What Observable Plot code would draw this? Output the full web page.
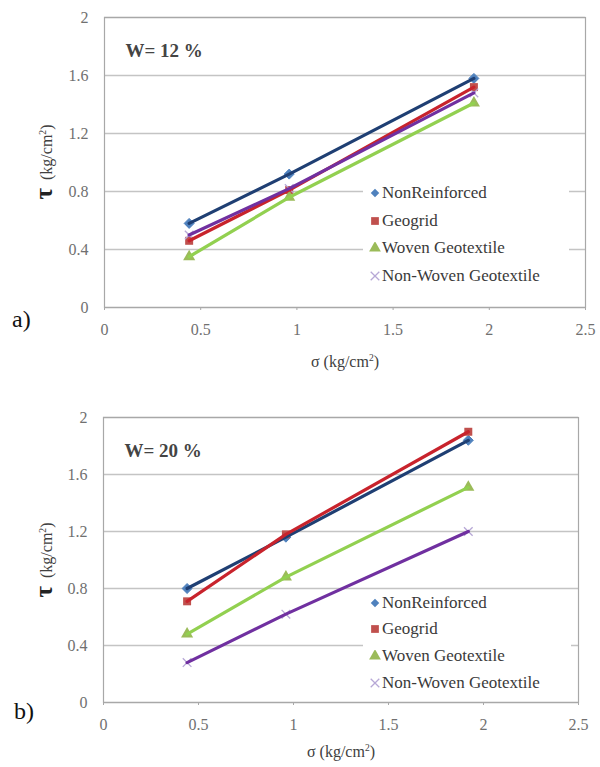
<!DOCTYPE html>
<html>
<head>
<meta charset="utf-8">
<script src="https://cdn.jsdelivr.net/npm/d3@7"></script>
<script src="https://cdn.jsdelivr.net/npm/@observablehq/plot@0.6"></script>
<style>
  html, body { margin: 0; padding: 0; background: #fff; }
  #page { position: relative; width: 600px; height: 767px; overflow: hidden; font-family: "Liberation Serif", "Times New Roman", "Noto Serif", "Nimbus Roman", "FreeSerif", "DejaVu Serif", serif; }
  .panel { position: absolute; left: 0; width: 600px; }
  .panel svg { display: block; }
  .ylab { position: absolute; white-space: nowrap; transform: translate(-50%, -50%) rotate(-90deg); color: #404040; font-size: 16px; }
  .ylab .tau { font-size: 25px; font-weight: bold; color: #222; }
  .xlab { position: absolute; white-space: nowrap; transform: translate(-50%, -50%); color: #404040; font-size: 16px; }
  .plabel { position: absolute; font-size: 24px; color: #111; }
  .legend { position: absolute; background: #fff; }
  .legend .row { position: absolute; left: 0; white-space: nowrap; font-size: 17px; color: #3a3a3a; transform: translateY(-50%); display: flex; align-items: center; }
  .legend svg { display: inline-block; margin-right: 1px; }
  sup { font-size: 60%; vertical-align: 0.6em; line-height: 0; }
</style>
</head>
<body>
<div id="page"></div>
<script>
// ---- data ----
const sigma = [0.44, 0.96, 1.92];
const seriesNames = ["NonReinforced", "Geogrid", "Woven Geotextile", "Non-Woven Geotextile"];
const xTicks = [0, 0.5, 1, 1.5, 2, 2.5];
const yTicks = [0, 0.4, 0.8, 1.2, 1.6, 2];

const w12NonReinforced = [0.58, 0.92, 1.58];
const w12Geogrid       = [0.46, 0.81, 1.52];
const w12Woven         = [0.35, 0.76, 1.41];
const w12NonWoven      = [0.50, 0.82, 1.48];

const w20NonReinforced = [0.80, 1.16, 1.84];
const w20Geogrid       = [0.71, 1.18, 1.90];
const w20Woven         = [0.48, 0.88, 1.51];
const w20NonWoven      = [0.28, 0.62, 1.20];

// ---- styles ----
const FONT = '"Liberation Serif", "Times New Roman", "Noto Serif", "Nimbus Roman", "FreeSerif", "DejaVu Serif", serif';
const lineColors   = ["#1F3F73", "#C8232C", "#92D050", "#7030A0"];
const markerColors = ["#4F81BD", "#C0504D", "#9BBB59", "#B7A8D6"];
const markerSymbols = ["diamond2", "square", "triangle", "times"];
const markerR = [4.5, 4.5, 4.5, 4];

function rowsFor(seriesValues) {
  const rows = [];
  seriesValues.forEach((vals, i) => {
    vals.forEach((v, j) => rows.push({series: seriesNames[i], si: i, sigma: sigma[j], tau: v}));
  });
  return rows;
}

function makePanel({top, height, mLeft, mRight, mTop, mBottom, values, wText, panelLabel, panelLabelPos, legendBox, legendRows, ylabPos, xlabPos}) {
  const page = document.getElementById("page");
  const panel = document.createElement("div");
  panel.className = "panel";
  panel.style.top = top + "px";
  panel.style.height = height + "px";
  page.appendChild(panel);

  const rows = rowsFor(values);
  const marks = [
    Plot.gridY(yTicks, {stroke: "#c4c4c4", strokeOpacity: 1, strokeWidth: 1.4}),
    Plot.frame({stroke: "#a8a8a8", strokeWidth: 1.2}),
    Plot.axisY(yTicks, {tickSize: 0, tickPadding: 16, label: null, tickFormat: d => String(d), fontSize: 16, fill: "#707070"}),
    Plot.axisX(xTicks, {tickSize: 3, tickPadding: 13, label: null, tickFormat: d => String(d), fontSize: 16, fill: "#707070", stroke: "#a8a8a8"}),
  ];
  seriesNames.forEach((name, i) => {
    const sub = rows.filter(r => r.si === i);
    const dotOpts = {x: "sigma", y: "tau", symbol: markerSymbols[i], r: markerR[i]};
    if (markerSymbols[i] === "times") { dotOpts.stroke = markerColors[i]; dotOpts.strokeWidth = 1.3; }
    else if (markerSymbols[i] === "diamond2") { dotOpts.fill = markerColors[i]; dotOpts.stroke = markerColors[i]; dotOpts.strokeWidth = 1; }
    else { dotOpts.fill = markerColors[i]; }
    marks.push(Plot.dot(sub, dotOpts));
  });
  seriesNames.forEach((name, i) => {
    const sub = rows.filter(r => r.si === i);
    marks.push(Plot.line(sub, {x: "sigma", y: "tau", stroke: lineColors[i], strokeWidth: 3.2}));
  });
  marks.push(Plot.text([wText], {frameAnchor: "top-left", dx: 21, dy: 26, text: d => d, textAnchor: "start", fontSize: 19, fontWeight: "bold", fill: "#444"}));

  const chart = Plot.plot({
    width: 600,
    height: height,
    marginLeft: mLeft, marginRight: mRight, marginTop: mTop, marginBottom: mBottom,
    x: {domain: [0, 2.5]},
    y: {domain: [0, 2]},
    style: {fontFamily: FONT, background: "transparent", color: "#555"},
    marks
  });
  panel.appendChild(chart);

  const yl = document.createElement("div");
  yl.className = "ylab";
  yl.style.left = ylabPos[0] + "px";
  yl.style.top = ylabPos[1] + "px";
  yl.innerHTML = '<span class="tau">τ</span>&nbsp; (kg/cm<sup>2</sup>)';
  panel.appendChild(yl);

  const xl = document.createElement("div");
  xl.className = "xlab";
  xl.style.left = xlabPos[0] + "px";
  xl.style.top = xlabPos[1] + "px";
  xl.innerHTML = 'σ (kg/cm<sup>2</sup>)';
  panel.appendChild(xl);

  const pl = document.createElement("div");
  pl.className = "plabel";
  pl.style.left = panelLabelPos[0] + "px";
  pl.style.top = panelLabelPos[1] + "px";
  pl.textContent = panelLabel;
  panel.appendChild(pl);

  const lg = document.createElement("div");
  lg.className = "legend";
  lg.style.left = legendBox[0] + "px";
  lg.style.top = legendBox[1] + "px";
  lg.style.width = legendBox[2] + "px";
  lg.style.height = legendBox[3] + "px";
  panel.appendChild(lg);
  seriesNames.forEach((name, i) => {
    const row = document.createElement("div");
    row.className = "row";
    row.style.top = (legendRows[i] - legendBox[1]) + "px";
    row.style.left = "6px";
    const s = d3.create("svg").attr("width", 12).attr("height", 12);
    const sym = {diamond2: d3.symbolSquare, square: d3.symbolSquare, triangle: d3.symbolTriangle, times: d3.symbolTimes}[markerSymbols[i]];
    const size = markerSymbols[i] === "times" ? 50 : (markerSymbols[i] === "diamond2" ? 36 : 60);
    const p = s.append("path").attr("transform", "translate(6,6)" + (markerSymbols[i] === "diamond2" ? " rotate(45)" : "")).attr("d", d3.symbol(sym, size)());
    if (markerSymbols[i] === "times") p.attr("fill", "none").attr("stroke", markerColors[i]).attr("stroke-width", 1.3);
    else p.attr("fill", markerColors[i]);
    row.appendChild(s.node());
    const t = document.createElement("span");
    t.textContent = name;
    row.appendChild(t);
    lg.appendChild(row);
  });
}

makePanel({
  top: 0, height: 385, mLeft: 104, mRight: 15, mTop: 17, mBottom: 78,
  values: [w12NonReinforced, w12Geogrid, w12Woven, w12NonWoven],
  wText: "W= 12 %",
  panelLabel: "a)", panelLabelPos: [12, 306],
  legendBox: [363, 180, 206, 110],
  legendRows: [193, 221, 248, 276],
  ylabPos: [44, 162], xlabPos: [345, 362]
});

makePanel({
  top: 400, height: 367, mLeft: 103, mRight: 22, mTop: 17, mBottom: 65,
  values: [w20NonReinforced, w20Geogrid, w20Woven, w20NonWoven],
  wText: "W= 20 %",
  panelLabel: "b)", panelLabelPos: [14, 298],
  legendBox: [363, 190, 208, 106],
  legendRows: [203, 229, 256, 283],
  ylabPos: [44, 160], xlabPos: [341, 352]
});
</script>
</body>
</html>
